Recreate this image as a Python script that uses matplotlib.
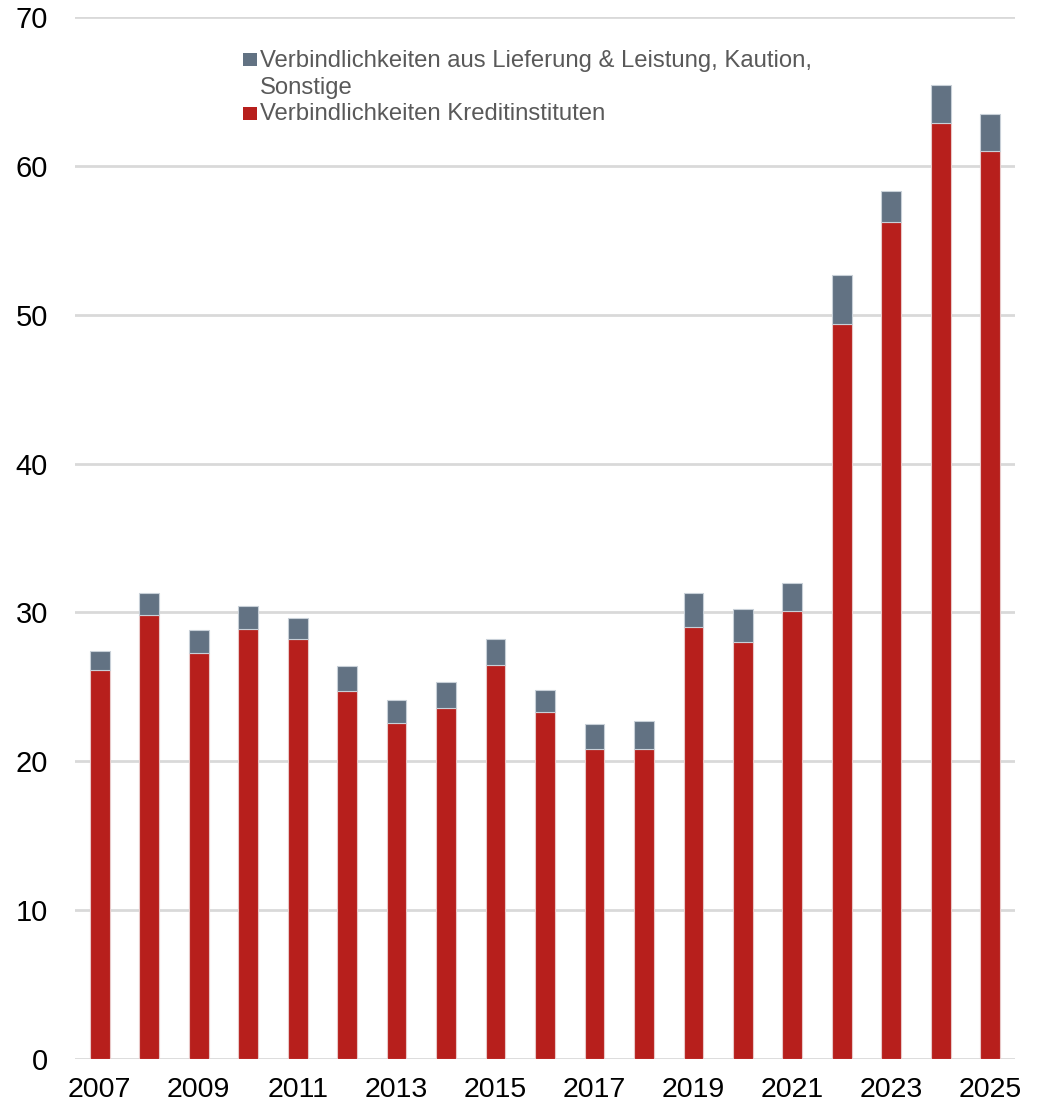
import matplotlib
matplotlib.use("Agg")
import matplotlib.pyplot as plt
from matplotlib.patches import Rectangle
import numpy as np

years = [str(y) for y in range(2007, 2026)]
kredit = [26.1, 29.8, 27.3, 28.9, 28.2, 24.7, 22.6, 23.6, 26.5, 23.3, 20.8, 20.8,
          29.0, 28.0, 30.1, 49.4, 56.2, 62.9, 61.0]
sonstige = [1.3, 1.5, 1.5, 1.5, 1.4, 1.7, 1.5, 1.7, 1.7, 1.5, 1.7, 1.9,
            2.3, 2.2, 1.9, 3.3, 2.1, 2.5, 2.5]
label_sonst = "Verbindlichkeiten aus Lieferung & Leistung, Kaution,\nSonstige"
label_kredit = "Verbindlichkeiten Kreditinstituten"
yticks = [0, 10, 20, 30, 40, 50, 60, 70]

RED = "#B71F1C"
GRAY = "#627283"
TXT = "#595959"

plt.rcParams['font.family'] = ['Liberation Sans', 'DejaVu Sans']

W, H = 1041, 1108
fig = plt.figure(figsize=(W / 100, H / 100), dpi=100)
ax = fig.add_axes([75 / W, (H - 1059) / H, 940 / W, (1059 - 17) / H])

x = np.arange(len(years))
ax.bar(x, kredit, width=0.4, color=RED, edgecolor="#e8c8c8", linewidth=0.8, zorder=3)
ax.bar(x, sonstige, bottom=kredit, width=0.4, color=GRAY, edgecolor="#c8d0d8",
       linewidth=0.8, zorder=3)

ax.set_xlim(-0.5, len(years) - 0.5)
ax.set_ylim(0, 70)
ax.set_yticks(yticks)
ax.set_yticklabels([str(v) for v in yticks], fontsize=21)
ax.set_xticks(x[::2])
ax.set_xticklabels(years[::2], fontsize=20.5)
ax.tick_params(axis='both', length=0, colors="black")
ax.tick_params(axis='y', pad=19.5)
ax.tick_params(axis='x', pad=13)
ax.grid(axis='y', color="#d9d9d9", linewidth=2, zorder=0)
for s in ax.spines.values():
    s.set_visible(False)

# manual legend (figure pixel coordinates)
def fx(px):
    return px / W

def fy(py):
    return 1 - py / H

lines = label_sonst.split("\n")
baselines = [66.5, 94, 120.5]
fig.patches.append(Rectangle((fx(243), fy(66)), 13.5 / W, 13.5 / H, transform=fig.transFigure,
                             facecolor=GRAY, edgecolor="none"))
fig.patches.append(Rectangle((fx(243), fy(120)), 13.5 / W, 13.5 / H, transform=fig.transFigure,
                             facecolor=RED, edgecolor="none"))
for txt, b in zip(lines + [label_kredit], baselines):
    fig.text(fx(260), fy(b), txt, fontsize=17.2, color=TXT, va='baseline', ha='left')

fig.savefig("out.png", dpi=100)
